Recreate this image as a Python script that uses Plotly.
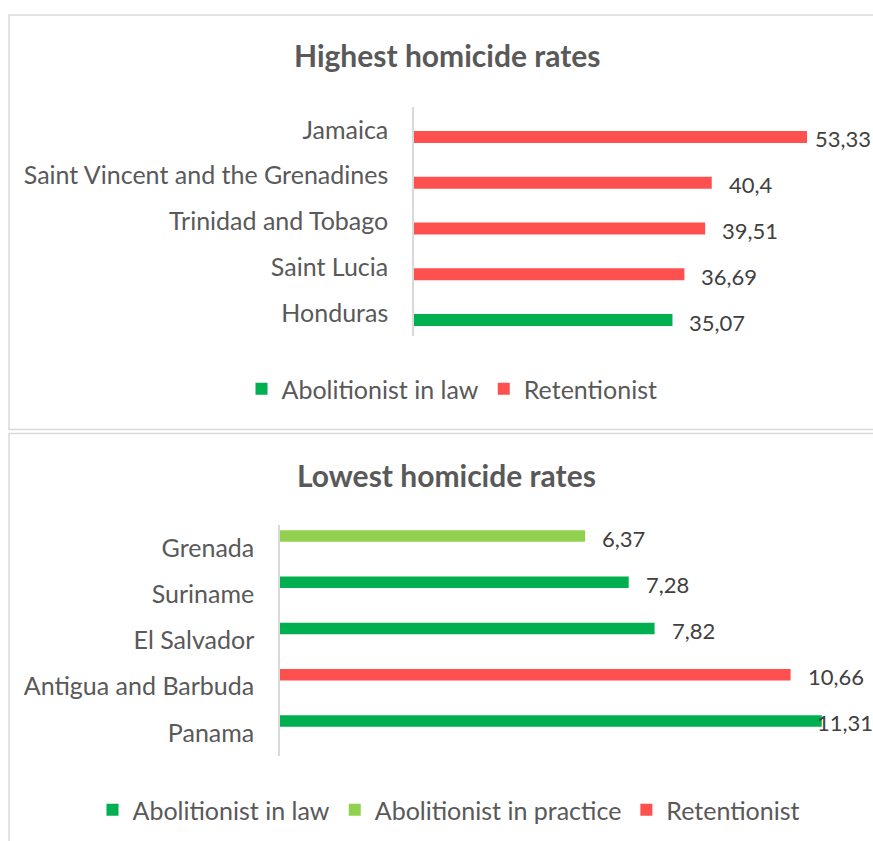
import plotly.graph_objects as go

W, H = 873, 841

# ---------------- data ----------------
top_countries = ["Jamaica", "Saint Vincent and the Grenadines", "Trinidad and Tobago",
                 "Saint Lucia", "Honduras"]
top_rates = [53.33, 40.4, 39.51, 36.69, 35.07]
top_status = ["Retentionist", "Retentionist", "Retentionist", "Retentionist",
              "Abolitionist in law"]
top_legend = ["Abolitionist in law", "Retentionist"]

bottom_countries = ["Grenada", "Suriname", "El Salvador", "Antigua and Barbuda", "Panama"]
bottom_rates = [6.37, 7.28, 7.82, 10.66, 11.31]
bottom_status = ["Abolitionist in practice", "Abolitionist in law", "Abolitionist in law",
                 "Retentionist", "Abolitionist in law"]
bottom_legend = ["Abolitionist in law", "Abolitionist in practice", "Retentionist"]

titles = ["Highest homicide rates", "Lowest homicide rates"]

colors = {"Abolitionist in law": "#00B050",
          "Abolitionist in practice": "#92D050",
          "Retentionist": "#FF5050"}

# ---------------- layout geometry (px) ----------------
FONT = "Lato"
panels = [
    dict(countries=top_countries, rates=top_rates, status=top_status, legend_items=top_legend,
         title=titles[0], axis_left=414, ppu=7.37, y0=107, y1=336, bar_shift=7, bar_thick=12,
         title_y=55, title_x=448, legend_x=452, legend_y=389, box=(9, 15, 910, 429.5),
         xa="x", ya="y", lg="legend"),
    dict(countries=bottom_countries, rates=bottom_rates, status=bottom_status,
         legend_items=bottom_legend, title=titles[1], axis_left=280, ppu=47.9, y0=525, y1=756,
         bar_shift=-12, bar_thick=11.5, title_y=475, title_x=447, legend_x=449, legend_y=810,
         box=(9, 433.5, 910, 900), xa="x2", ya="y2", lg="legend2"),
]

def px_x(p):
    return p / W

def px_y(p):
    return 1 - p / H

fig = go.Figure()
annotations = []
shapes = []
layout_axes = {}

LABEL_FS = 22
GAP = 15

def label_width(t):
    w = 0
    for ch in t:
        w += 0.26 * LABEL_FS if ch == "," else 0.56 * LABEL_FS
    return w + 4

for i, p in enumerate(panels):
    n = len(p["countries"])
    spacing = (p["y1"] - p["y0"]) / n
    width = p["bar_thick"] / spacing
    offset = p["bar_shift"] / spacing - width / 2
    for s in p["legend_items"]:
        ys = [c for c, st in zip(p["countries"], p["status"]) if st == s]
        xs = [v for v, st in zip(p["rates"], p["status"]) if st == s]
        fig.add_trace(go.Bar(
            orientation="h", y=ys, x=xs, name=s, marker=dict(color=colors[s], line=dict(width=0)),
            width=width, offset=offset, xaxis=p["xa"], yaxis=p["ya"], legend=p["lg"],
            hoverinfo="x+y"))
    # data labels
    for c, v in zip(p["countries"], p["rates"]):
        t = f"{v:g}".replace(".", ",")
        bar_end = p["axis_left"] + v * p["ppu"]
        g = max(-7, min(GAP, W - 1 - bar_end - label_width(t)))
        annotations.append(dict(
            x=v, y=c, xref=p["xa"], yref=p["ya"], text=t, showarrow=False,
            xanchor="left", yanchor="middle", xshift=g, yshift=-(p["bar_shift"] + 2),
            font=dict(family=FONT, size=LABEL_FS, color="#404040")))
    # title
    annotations.append(dict(
        x=px_x(p["title_x"]), y=px_y(p["title_y"]), xref="paper", yref="paper",
        text=p["title"], showarrow=False, xanchor="center", yanchor="middle",
        font=dict(family=FONT, size=30, color="#595959", weight="bold")))
    # chart border
    bx0, by0, bx1, by1 = p["box"]
    shapes.append(dict(type="rect", xref="paper", yref="paper",
                       x0=px_x(bx0), x1=px_x(bx1), y0=px_y(by1), y1=px_y(by0),
                       line=dict(color="#D9D9D9", width=1.5), fillcolor="rgba(0,0,0,0)",
                       layer="below"))
    xrange_max = (W - p["axis_left"]) / p["ppu"]
    xkey = "xaxis" if p["xa"] == "x" else "xaxis2"
    ykey = "yaxis" if p["ya"] == "y" else "yaxis2"
    layout_axes[xkey] = dict(domain=[px_x(p["axis_left"]), 1], range=[0, xrange_max],
                             visible=False, fixedrange=True, anchor=p["ya"])
    layout_axes[ykey] = dict(domain=[px_y(p["y1"]), px_y(p["y0"])], type="category",
                             categoryorder="array", categoryarray=p["countries"],
                             range=[n - 0.5, -0.5], showline=True, linecolor="#D9D9D9",
                             linewidth=1.5, ticks="outside", ticklen=19,
                             tickcolor="rgba(0,0,0,0)", showgrid=False, zeroline=False,
                             tickfont=dict(family=FONT, size=25, color="#595959"),
                             fixedrange=True, anchor=p["xa"])
    layout_axes[p["lg"]] = dict(orientation="h", x=px_x(p["legend_x"]), xanchor="center",
                                y=px_y(p["legend_y"]), yanchor="middle",
                                font=dict(family=FONT, size=25, color="#595959"),
                                bgcolor="rgba(0,0,0,0)", traceorder="normal",
                                itemwidth=30)

fig.update_layout(
    width=W, height=H, margin=dict(l=0, r=0, t=0, b=0),
    paper_bgcolor="white", plot_bgcolor="white", barmode="overlay",
    annotations=annotations, shapes=shapes, **layout_axes)

fig.write_html("out.html")
